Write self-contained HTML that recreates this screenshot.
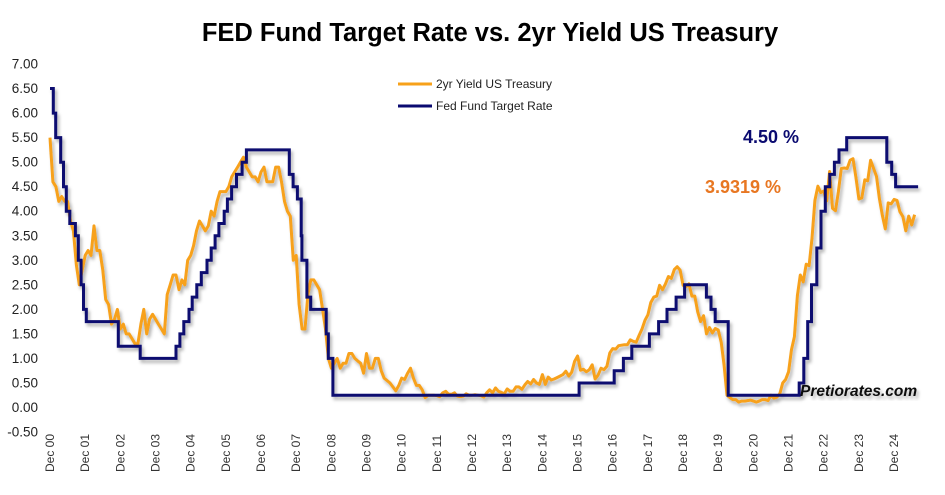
<!DOCTYPE html>
<html><head><meta charset="utf-8"><style>
html,body{margin:0;padding:0;background:#fff;}
svg{display:block;font-family:"Liberation Sans",Arial,sans-serif;}
</style></head><body>
<svg id="chart" width="945" height="495" viewBox="0 0 945 495">
<defs><filter id="sh" x="-5%" y="-5%" width="110%" height="110%"><feDropShadow dx="2" dy="3" stdDeviation="1.5" flood-color="#000" flood-opacity="0.3"/></filter></defs>
<text x="490" y="41" text-anchor="middle" font-size="25.5" font-weight="bold" fill="#000">FED Fund Target Rate vs. 2yr Yield US Treasury</text>
<g id="yaxis"></g>
<g id="xaxis"></g>
<g id="series" filter="url(#sh)"></g>
<g>
<g><line x1="398" y1="84" x2="432" y2="84" stroke="#F7A11A" stroke-width="3"/><text x="436" y="88" font-size="12" fill="#222">2yr Yield US Treasury</text></g>
<g><line x1="398" y1="106" x2="432" y2="106" stroke="#0A0A70" stroke-width="3"/><text x="436" y="110" font-size="12" fill="#222">Fed Fund Target Rate</text></g>
</g>
<text x="743" y="143" font-size="18" font-weight="bold" fill="#0A0A70">4.50 %</text>
<text x="705" y="193" font-size="18" font-weight="bold" fill="#E87722">3.9319 %</text>
<text x="800" y="396" font-size="15.5" font-weight="bold" font-style="italic" fill="#111" filter="url(#sh)">Pretiorates.com</text>
</svg>
<script>
const yTicks=[-0.5,0,0.5,1,1.5,2,2.5,3,3.5,4,4.5,5,5.5,6,6.5,7];
const xLabels=["Dec 00","Dec 01","Dec 02","Dec 03","Dec 04","Dec 05","Dec 06","Dec 07","Dec 08","Dec 09","Dec 10","Dec 11","Dec 12","Dec 13","Dec 14","Dec 15","Dec 16","Dec 17","Dec 18","Dec 19","Dec 20","Dec 21","Dec 22","Dec 23","Dec 24"];
const yieldStart=2000+11/12;
const yield2y=[5.5,
4.6,4.5,4.2,4.3,4.2,4.2,3.8,3.6,2.9,2.5,2.8,3.1,
3.2,3.1,3.7,3.2,3.2,2.8,2.2,2.1,1.7,1.8,2.0,1.6,
1.7,1.5,1.5,1.4,1.3,1.3,1.7,2.0,1.5,1.8,1.9,1.8,
1.7,1.6,1.5,2.3,2.5,2.7,2.7,2.4,2.6,2.5,3.0,3.1,
3.3,3.6,3.8,3.7,3.6,3.7,4.0,3.9,4.2,4.4,4.4,4.4,
4.5,4.7,4.8,4.9,5.0,5.1,4.9,4.8,4.7,4.7,4.6,4.8,
4.9,4.6,4.6,4.6,4.9,4.9,4.6,4.2,4.0,3.9,3.0,3.1,
2.1,1.6,1.6,2.3,2.6,2.6,2.5,2.4,2.0,1.6,1.0,0.8,
0.9,1.0,0.8,0.9,0.9,1.1,1.1,1.0,0.95,0.9,0.7,1.1,
0.8,0.8,1.0,1.0,0.75,0.6,0.55,0.5,0.42,0.34,0.45,0.6,
0.57,0.7,0.8,0.6,0.45,0.45,0.36,0.2,0.25,0.25,0.25,0.24,
0.22,0.3,0.33,0.27,0.27,0.3,0.23,0.22,0.23,0.28,0.25,0.25,
0.26,0.25,0.24,0.21,0.3,0.36,0.3,0.4,0.33,0.31,0.28,0.38,
0.33,0.33,0.42,0.42,0.37,0.46,0.53,0.48,0.57,0.5,0.47,0.67,
0.47,0.62,0.56,0.58,0.61,0.64,0.67,0.74,0.64,0.72,0.94,1.05,
0.76,0.78,0.73,0.77,0.87,0.58,0.66,0.8,0.77,0.84,1.11,1.2,
1.19,1.26,1.27,1.28,1.28,1.38,1.35,1.33,1.47,1.6,1.78,1.89,
2.14,2.25,2.27,2.49,2.4,2.52,2.67,2.63,2.81,2.87,2.8,2.49,
2.46,2.52,2.27,2.27,1.95,1.75,1.87,1.5,1.63,1.52,1.61,1.58,
1.33,0.86,0.25,0.2,0.16,0.16,0.11,0.13,0.13,0.14,0.15,0.13,
0.11,0.13,0.16,0.16,0.14,0.25,0.19,0.21,0.28,0.5,0.57,0.73,
1.18,1.44,2.28,2.7,2.56,2.92,2.89,3.45,4.22,4.51,4.38,4.41,
4.21,4.81,4.06,4.01,4.4,4.87,4.88,4.87,5.04,5.07,4.68,4.25,
4.27,4.64,4.62,5.04,4.87,4.71,4.26,3.91,3.64,4.17,4.15,4.24,
4.22,3.99,3.89,3.6,3.9,3.72,3.93];
const fedDates=[2000.917,2001.01,2001.08,2001.22,2001.3,2001.38,2001.48,2001.64,2001.72,2001.8,2001.87,2001.95,2002.86,2003.48,2004.5,2004.61,2004.72,2004.87,2004.96,2005.09,2005.22,2005.38,2005.5,2005.61,2005.72,2005.87,2005.96,2006.08,2006.22,2006.38,2006.5,2007.72,2007.83,2007.95,2008.06,2008.08,2008.22,2008.33,2008.77,2008.83,2008.96,2015.96,2016.96,2017.22,2017.46,2017.96,2018.22,2018.46,2018.72,2018.96,2019.58,2019.71,2019.83,2020.2,2022.22,2022.35,2022.46,2022.57,2022.72,2022.84,2022.96,2023.09,2023.22,2023.35,2023.57,2024.71,2024.85,2024.96,2025.6];
const fedRates=[6.5,6.0,5.5,5.0,4.5,4.0,3.75,3.5,3.0,2.5,2.0,1.75,1.25,1.0,1.25,1.5,1.75,2.0,2.25,2.5,2.75,3.0,3.25,3.5,3.75,4.0,4.25,4.5,4.75,5.0,5.25,4.75,4.5,4.25,3.5,3.0,2.25,2.0,1.5,1.0,0.25,0.5,0.75,1.0,1.25,1.5,1.75,2.0,2.25,2.5,2.25,2.0,1.75,0.25,0.5,1.0,1.75,2.5,3.25,4.0,4.5,4.75,5.0,5.25,5.5,5.0,4.75,4.5,4.5];
const NS="http://www.w3.org/2000/svg";
const X0=50,XS=35.17,T0=2000+11/12,Y0=407.5,YS=49.07;
function x(t){return X0+(t-T0)*XS;}
function y(v){return Y0-v*YS;}
function mk(tag,attrs,parent){const e=document.createElementNS(NS,tag);for(const k in attrs)e.setAttribute(k,attrs[k]);parent.appendChild(e);return e;}
const ya=document.getElementById('yaxis');
yTicks.forEach(v=>{const t=mk('text',{x:38,y:y(v)+4.5,'text-anchor':'end','font-size':'13.5',fill:'#222'},ya);


t.textContent=v.toFixed(2);});
const xa=document.getElementById('xaxis');
xLabels.forEach((l,i)=>{const xx=x(T0+i)+4;const t=mk('text',{x:0,y:0,transform:`translate(${xx},472) rotate(-90)`,'font-size':'12',fill:'#333'},xa);


t.textContent=l;});
const g=document.getElementById('series');
let d='';yield2y.forEach((v,i)=>{d+=(i?'L':'M')+x(yieldStart+i/12).toFixed(1)+','+y(v).toFixed(1);});
const p1=mk('path',{d:d,fill:'none',stroke:'#F7A11A','stroke-width':'3','stroke-linejoin':'round'},g);


let d2='';fedDates.forEach((t,i)=>{if(i===0)d2+='M'+x(t).toFixed(1)+','+y(fedRates[0]).toFixed(1);else d2+='H'+x(t).toFixed(1)+'V'+y(fedRates[i]).toFixed(1);});
const p2=mk('path',{d:d2,fill:'none',stroke:'#0A0A70','stroke-width':'3'},g);


</script>
</body></html>
